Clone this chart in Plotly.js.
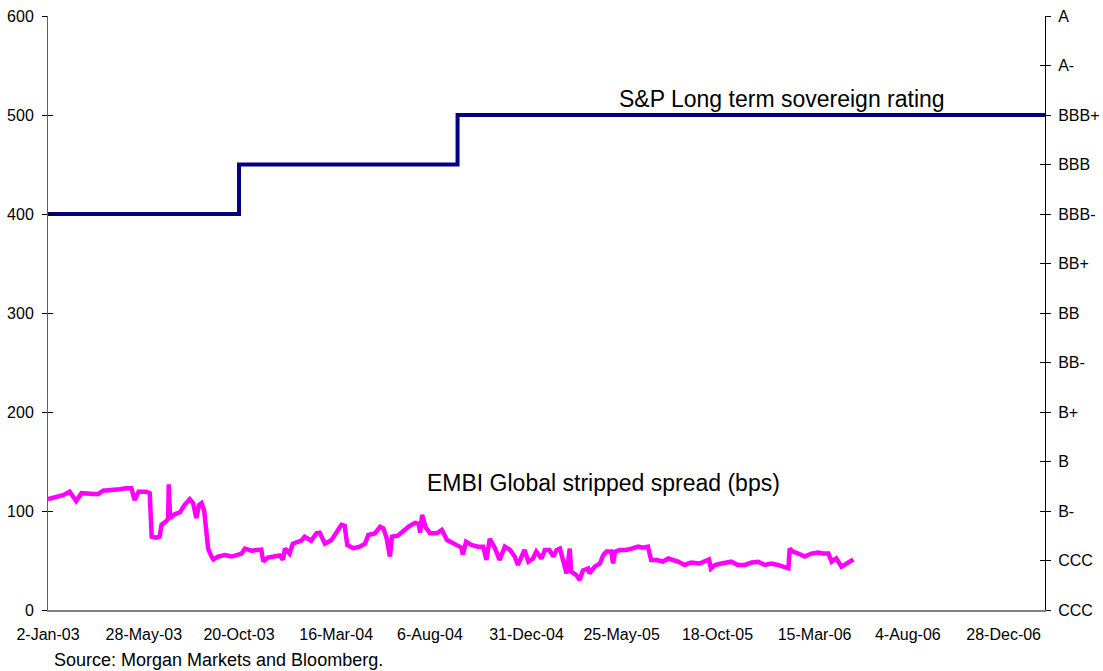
<!DOCTYPE html>
<html>
<head>
<meta charset="utf-8">
<script src="https://cdn.plot.ly/plotly-3.0.1.min.js"></script>
<style>html,body{margin:0;padding:0;background:#fff;}#chart{width:1103px;height:671px;}</style>
</head>
<body>
<div id="chart"></div>
<script>
// EMBI Global stripped spread (bps)
const embiDates = [
 '2003-01-02','2003-01-13','2003-01-25','2003-02-04','2003-02-14','2003-02-22','2003-03-09','2003-03-19','2003-03-27','2003-04-09',
 '2003-04-21','2003-05-01','2003-05-09','2003-05-14','2003-05-20','2003-06-01','2003-06-06','2003-06-09','2003-06-16','2003-06-21',
 '2003-06-24','2003-06-30','2003-07-04','2003-07-05','2003-07-07','2003-07-14','2003-07-22','2003-07-29','2003-08-06','2003-08-11',
 '2003-08-16','2003-08-20','2003-08-24','2003-08-28','2003-09-03','2003-09-08','2003-09-11','2003-09-18','2003-09-28','2003-10-09',
 '2003-10-16','2003-10-24','2003-10-29','2003-11-08','2003-11-23','2003-11-26','2003-12-03','2003-12-13','2003-12-21','2003-12-26',
 '2003-12-29','2004-01-05','2004-01-10','2004-01-23','2004-01-28','2004-02-07','2004-02-15','2004-02-20','2004-02-28','2004-03-09',
 '2004-03-16','2004-03-24','2004-03-29','2004-04-02','2004-04-11','2004-04-21','2004-04-29','2004-05-04','2004-05-14','2004-05-22',
 '2004-05-27','2004-06-01','2004-06-06','2004-06-09','2004-06-18','2004-06-26','2004-07-04','2004-07-14','2004-07-20','2004-07-22',
 '2004-07-25','2004-07-30','2004-08-06','2004-08-16','2004-08-24','2004-09-01','2004-09-10','2004-09-23','2004-09-25','2004-09-30',
 '2004-10-08','2004-10-18','2004-10-26','2004-10-31','2004-11-05','2004-11-13','2004-11-20','2004-11-28','2004-12-06','2004-12-13',
 '2004-12-18','2004-12-23','2004-12-28','2005-01-03','2005-01-10','2005-01-15','2005-01-23','2005-01-28','2005-02-04','2005-02-10',
 '2005-02-15','2005-02-20','2005-02-25','2005-03-02','2005-03-07','2005-03-09','2005-03-17','2005-03-22','2005-03-27','2005-04-04',
 '2005-04-06','2005-04-14','2005-04-22','2005-04-27','2005-05-02','2005-05-09','2005-05-12','2005-05-15','2005-05-22','2005-06-01',
 '2005-06-09','2005-06-19','2005-06-27','2005-07-04','2005-07-09','2005-07-17','2005-07-27','2005-08-04','2005-08-11','2005-08-19',
 '2005-08-29','2005-09-08','2005-09-21','2005-10-05','2005-10-08','2005-10-14','2005-10-24','2005-11-08','2005-11-18','2005-11-29',
 '2005-12-09','2005-12-19','2005-12-29','2006-01-08','2006-01-18','2006-01-29','2006-02-03','2006-02-05','2006-02-10','2006-02-18',
 '2006-02-28','2006-03-10','2006-03-20','2006-03-28','2006-04-05','2006-04-10','2006-04-17','2006-04-25','2006-05-03','2006-05-13'
];
const embiSpread = [
 112,114,116,119.5,110,118,117,117,120.5,121,
 122,123,123,111,119.5,119.5,118,74,73,74,
 86,89,92,127,93,96.7,98.6,106,112,108,
 93,106,108,100,62,54,51,54,55.6,54,
 55,57,62,60,61,49,53,54,55,51,
 62,57,67,70,74,70,77.5,78,67,70.7,
 78,86,85,65.7,62.4,64,67,75.8,77.4,84,
 82.5,72.4,54,74,75,80,84,88,87,78,
 96,84,77.4,77.4,80.8,70.7,68,63,56,69,
 65.7,64,64,50.5,72,62.4,50.5,64,60.6,54,
 45.5,54,60.6,48.8,52,59,52,60.6,60.6,54,
 60.6,62,50.5,37,62,38.7,35.3,30.3,40,42,
 37,43.8,47,55.6,59,59,47,59,60.6,60.6,
 62,64,63,64,50.5,50.5,49,52,50.5,49,
 45.5,48,47,51,42,45.5,47,48.8,45.5,45.5,
 48,48.8,45.5,47,45.5,43.8,42.1,62,59,57,
 54,57,58,57,57,48.8,52,43.8,47,51
];

// S&P long term sovereign rating (plotted on the 0-600 scale)
const ratingDates = ['2003-01-02','2003-10-20','2004-09-17','2007-03-01'];
const ratingLevel = [400,450,500,500];

// Axis ticks
const xTickDates = ['2003-01-02','2003-05-28','2003-10-20','2004-03-16','2004-08-06','2004-12-31','2005-05-25','2005-10-18','2006-03-15','2006-08-04','2006-12-28'];
const xTickLabels = ['2-Jan-03','28-May-03','20-Oct-03','16-Mar-04','6-Aug-04','31-Dec-04','25-May-05','18-Oct-05','15-Mar-06','4-Aug-06','28-Dec-06'];
const leftTicks = [0,100,200,300,400,500,600];
const ratingTickVals = [0,50,100,150,200,250,300,350,400,450,500,550,600];
const ratingTickText = ['CCC','CCC','B-','B','B+','BB-','BB','BB+','BBB-','BBB','BBB+','A-','A'];

const FONT = 'Arial, "Liberation Sans", sans-serif';

const traces = [
  {x: ratingDates, y: ratingLevel, type: 'scatter', mode: 'lines',
   line: {color: '#000080', width: 4, shape: 'hv'}, hoverinfo: 'skip', name: 'S&P'},
  {x: embiDates, y: embiSpread, type: 'scatter', mode: 'lines',
   line: {color: '#FF00FF', width: 4.5}, hoverinfo: 'skip', name: 'EMBI'}
];

const yBase = {range: [0, 600], fixedrange: true, showgrid: false, zeroline: false};

const layout = {
  width: 1103, height: 671,
  margin: {l: 48, r: 58, t: 16, b: 61},
  paper_bgcolor: '#ffffff', plot_bgcolor: '#ffffff',
  showlegend: false,
  font: {family: FONT, color: '#000', size: 16},
  xaxis: {
    type: 'date', range: ['2003-01-02', '2007-03-01'],
    tickmode: 'array', tickvals: xTickDates, ticktext: xTickLabels,
    ticks: '', showgrid: false, zeroline: false,
    showline: true, linecolor: '#808080', linewidth: 2,
    tickfont: {family: FONT, size: 16, color: '#000'},
    ticklabelstandoff: 9
  },
  yaxis: Object.assign({}, yBase, {
    tickmode: 'array', tickvals: leftTicks,
    ticks: 'outside', ticklen: 5, tickcolor: '#000', tickwidth: 1,
    showline: true, linecolor: '#606060', linewidth: 1,
    tickfont: {family: FONT, size: 16, color: '#000'},
    ticklabelstandoff: 5
  }),
  yaxis3: Object.assign({}, yBase, {
    overlaying: 'y', side: 'left', anchor: 'x',
    tickmode: 'array', tickvals: leftTicks,
    ticks: 'inside', ticklen: 5, tickcolor: '#000', tickwidth: 1,
    showticklabels: false, showline: false
  }),
  yaxis2: Object.assign({}, yBase, {
    overlaying: 'y', side: 'right', anchor: 'x',
    tickmode: 'array', tickvals: ratingTickVals, ticktext: ratingTickText,
    ticks: 'outside', ticklen: 5, tickcolor: '#000', tickwidth: 1,
    showline: true, linecolor: '#000', linewidth: 1,
    tickfont: {family: FONT, size: 16, color: '#000'},
    ticklabelstandoff: 4
  }),
  yaxis4: Object.assign({}, yBase, {
    overlaying: 'y', side: 'right', anchor: 'x',
    tickmode: 'array', tickvals: ratingTickVals,
    ticks: 'inside', ticklen: 5, tickcolor: '#000', tickwidth: 1,
    showticklabels: false, showline: false
  }),
  annotations: [
    {xref: 'paper', yref: 'paper', x: 0.736, y: 0.860, xanchor: 'center', yanchor: 'middle',
     text: 'S&P Long term sovereign rating', showarrow: false,
     font: {family: FONT, size: 23, color: '#000'}},
    {xref: 'paper', yref: 'paper', x: 0.557, y: 0.2138, xanchor: 'center', yanchor: 'middle',
     text: 'EMBI Global stripped spread (bps)', showarrow: false,
     font: {family: FONT, size: 23, color: '#000'}},
    {xref: 'paper', yref: 'paper', x: 0.004, y: -0.0842, xanchor: 'left', yanchor: 'middle',
     text: 'Source: Morgan Markets and Bloomberg.', showarrow: false,
     font: {family: FONT, size: 18, color: '#000'}}
  ]
};

// invisible traces so the overlay axes render
traces.push({x: [], y: [], yaxis: 'y2', type: 'scatter', hoverinfo: 'skip'});
traces.push({x: [], y: [], yaxis: 'y3', type: 'scatter', hoverinfo: 'skip'});
traces.push({x: [], y: [], yaxis: 'y4', type: 'scatter', hoverinfo: 'skip'});

Plotly.newPlot('chart', traces, layout, {staticPlot: true, displayModeBar: false});
</script>
</body>
</html>
